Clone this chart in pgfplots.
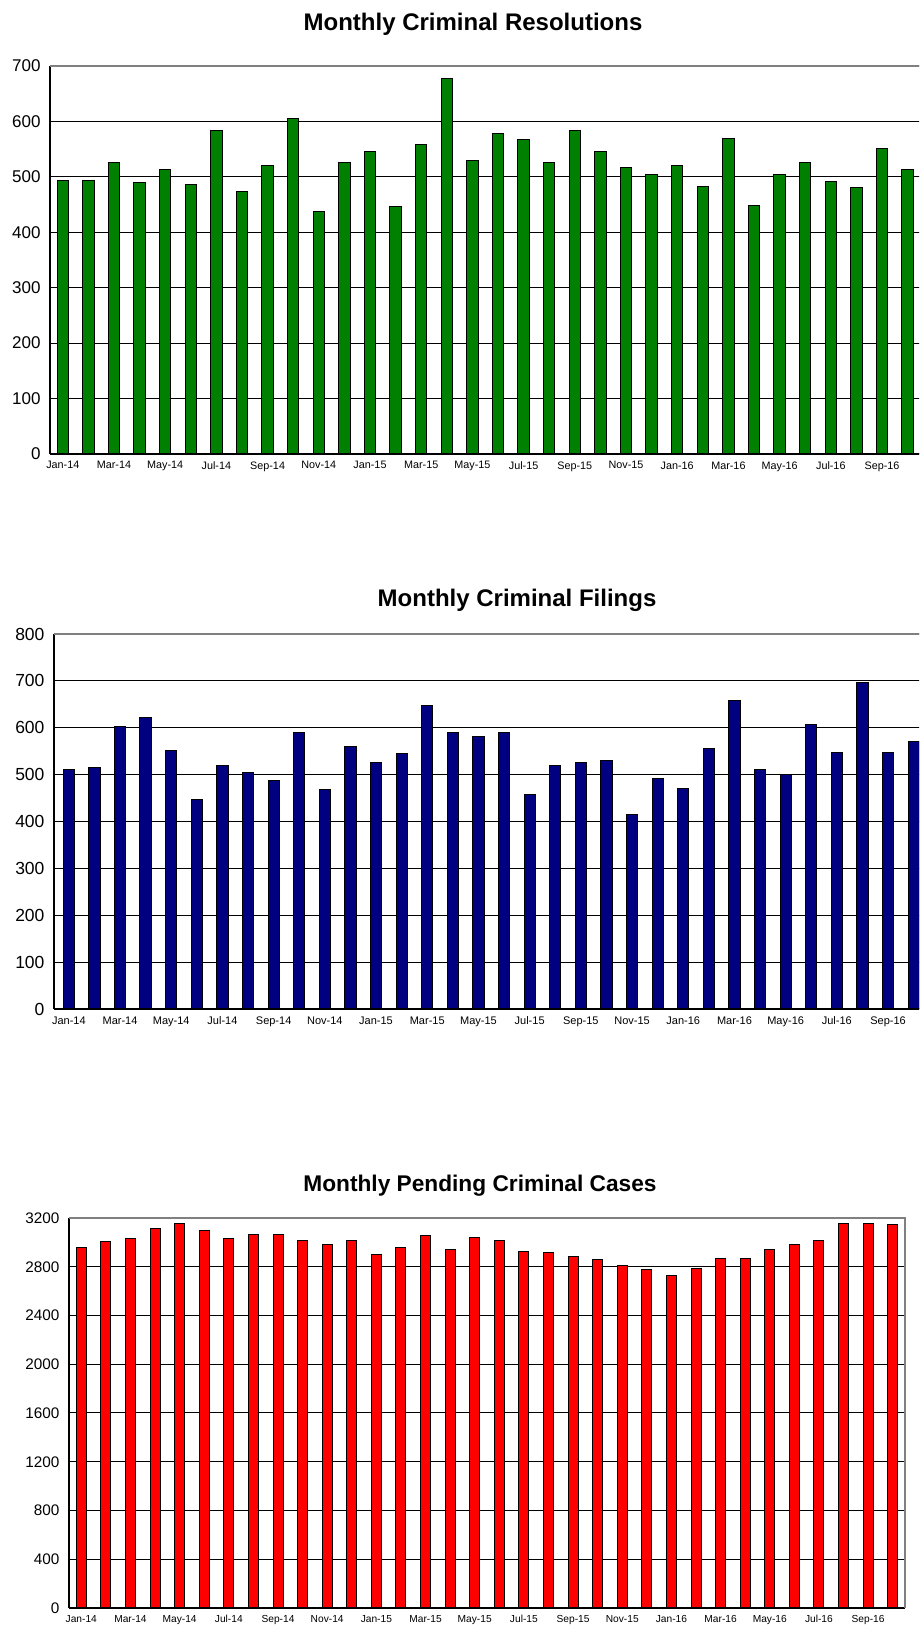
\documentclass[border=0pt]{standalone}
\usepackage{fontspec}
\setmainfont{Liberation Sans}
\usepackage{pgfplots}
\pgfplotsset{compat=1.18}
\definecolor{exgreen}{RGB}{0,128,0}
\definecolor{exnavy}{RGB}{0,0,128}
\definecolor{exred}{RGB}{255,0,0}
\pgfplotsset{
  monthly/.style={
    scale only axis, anchor=south west, clip=false,
    axis x line*=bottom, axis y line*=left,
    axis line style={black, line width=2pt, -},
    ymajorgrids, major grid style={black, line width=1pt},
    major tick length=0pt,
    ymin=0,
    xtick={0,2,...,32},
    xticklabels={Jan-14,Mar-14,May-14,Jul-14,Sep-14,Nov-14,Jan-15,Mar-15,May-15,Jul-15,Sep-15,Nov-15,Jan-16,Mar-16,May-16,Jul-16,Sep-16},
    /pgf/number format/assume math mode=true,
    /pgf/number format/1000 sep={},
    ybar,
    yticklabel style={xshift=-6pt},
    xticklabel style={yshift=-4pt},
  }
}
\begin{document}
\begin{tikzpicture}
\useasboundingbox (0,0) rectangle (919pt,1631pt);
\clip (0,0) rectangle (919pt,1631pt);
% Chart 1
\begin{axis}[monthly, at={(50pt,1177pt)}, width=870.4pt, height=388pt,
  xmin=-0.5, xmax=33.5, ymax=700, ytick={0,100,...,700}, bar width=11.3pt,
  yticklabel style={font=\fontsize{17}{17}\selectfont},
  xticklabel style={font=\fontsize{10.8}{11}\selectfont}]
\addplot[fill=exgreen, draw=black, line width=1pt] coordinates {
(0,494) (1,494) (2,526) (3,489) (4,514) (5,486) (6,584) (7,473) (8,521) (9,605)
(10,437) (11,526) (12,545) (13,446) (14,559) (15,678) (16,529) (17,578) (18,567) (19,526)
(20,584) (21,545) (22,516) (23,505) (24,521) (25,483) (26,569) (27,449) (28,505) (29,526)
(30,491) (31,481) (32,551) (33,513)};
\draw[gray, line width=1.5pt] (rel axis cs:0,1) -- (rel axis cs:1,1) -- (rel axis cs:1,0);
\node[font=\bfseries\fontsize{24}{28}\selectfont, anchor=base] at (rel axis cs:0.486,1.0905) {Monthly Criminal Resolutions};
\end{axis}
% Chart 2
\begin{axis}[monthly, at={(54pt,622pt)}, width=870.4pt, height=375pt,
  xmin=-0.58, xmax=33.42, ymax=800, ytick={0,100,...,800}, bar width=11.3pt,
  yticklabel style={font=\fontsize{17.5}{18}\selectfont},
  xticklabel style={font=\fontsize{11}{11}\selectfont}]
\addplot[fill=exnavy, draw=black, line width=1pt] coordinates {
(0,511) (1,516) (2,602) (3,622) (4,552) (5,447) (6,519) (7,505) (8,488) (9,589)
(10,468) (11,559) (12,526) (13,546) (14,647) (15,589) (16,582) (17,589) (18,458) (19,519)
(20,526) (21,531) (22,415) (23,491) (24,471) (25,555) (26,659) (27,511) (28,501) (29,606)
(30,548) (31,696) (32,548) (33,571)};
\draw[gray, line width=1.5pt] (rel axis cs:0,1) -- (rel axis cs:1,1) -- (rel axis cs:1,0);
\node[font=\bfseries\fontsize{24}{28}\selectfont, anchor=base] at (rel axis cs:0.532,1.072) {Monthly Criminal Filings};
\end{axis}
% Chart 3
\begin{axis}[monthly, at={(69pt,23pt)}, width=836pt, height=390pt,
  xmin=-0.5, xmax=33.5, ymax=3200, ytick={0,400,...,3200}, bar width=10pt,
  yticklabel style={font=\fontsize{15.3}{16}\selectfont},
  xticklabel style={font=\fontsize{10.2}{11}\selectfont}]
\addplot[fill=exred, draw=black, line width=1pt] coordinates {
(0,2957) (1,3006) (2,3028) (3,3110) (4,3156) (5,3099) (6,3028) (7,3063) (8,3063) (9,3017)
(10,2982) (11,3017) (12,2902) (13,2957) (14,3053) (15,2938) (16,3039) (17,3017) (18,2924) (19,2913)
(20,2881) (21,2856) (22,2810) (23,2774) (24,2728) (25,2785) (26,2867) (27,2867) (28,2938) (29,2984)
(30,3017) (31,3156) (32,3156) (33,3145)};
\draw[gray, line width=1.5pt] (rel axis cs:0,1) -- (rel axis cs:1,1) -- (rel axis cs:1,0);
\node[font=\bfseries\fontsize{22.7}{26}\selectfont, anchor=base] at (rel axis cs:0.4916,1.069) {Monthly Pending Criminal Cases};
\end{axis}
\end{tikzpicture}
\end{document}
